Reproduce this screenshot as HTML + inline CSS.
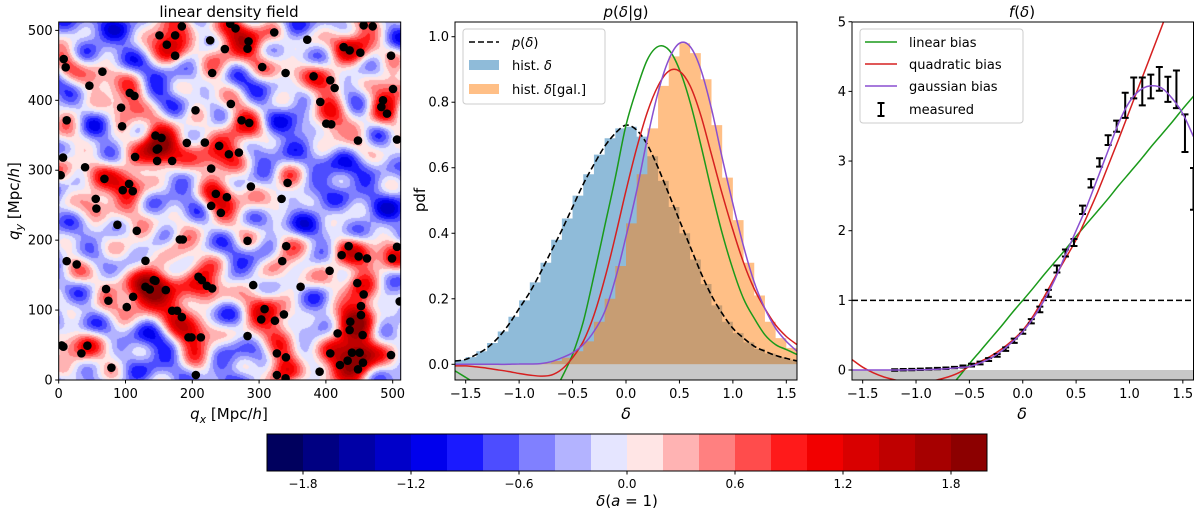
<!DOCTYPE html>
<html><head><meta charset="utf-8">
<style>
html,body{margin:0;padding:0;background:#fff;}
#wrap{position:relative;width:1200px;height:512px;overflow:hidden;font-family:"DejaVu Sans","Liberation Sans",sans-serif;}
svg{position:absolute;left:0;top:0;}
canvas{position:absolute;}
</style></head>
<body>
<div id="wrap">
<canvas id="field" width="342" height="358" style="left:59px;top:22px;width:342px;height:358px"></canvas>
<svg id="svg" width="1200" height="512"></svg>
</div>
<script>
// ---------- data ----------
const galaxyZoomPts = [[545,78],[478,105],[500,133],[525,105],[525,166],[630,120],[674,146],[636,218],[690,70],[706,84],[745,123],[742,145],[786,200],[822,96],[921,118],[856,218],[940,228],[990,240],[1003,263],[1030,140],[1048,150],[1080,157],[1090,75],[1117,78],[1172,166],[1178,266],[1148,300],[1143,320],[1160,340],[960,305],[978,370],[993,372],[1073,421],[1190,418],[191,176],[197,201],[200,360],[268,256],[307,214],[363,322],[366,378],[389,278],[403,287],[586,330],[692,311],[724,360],[747,368],[560,428],[614,427],[657,437],[686,462],[716,457],[466,406],[484,413],[470,448],[474,445],[471,482],[516,482],[405,470],[189,472],[182,525],[255,501],[313,536],[387,551],[368,570],[398,573],[289,625],[287,596],[352,674],[410,692],[539,718],[548,718],[633,505],[647,581],[633,617],[662,638],[680,591],[752,559],[862,548],[844,596],[742,722],[858,738],[846,783],[988,812],[1045,738],[1024,765],[1075,769],[1100,775],[990,1060],[1012,1000],[1019,1095],[958,1115],[1042,1082],[1055,1058],[1048,990],[1050,965],[1078,1058],[1088,1088],[1073,1108],[1082,945],[1082,918],[1090,883],[1071,849],[901,860],[851,943],[793,927],[783,958],[824,962],[830,1060],[857,1072],[830,1125],[856,1135],[742,1008],[759,855],[595,830],[605,840],[620,857],[636,865],[587,1125],[565,1012],[574,1012],[602,1012],[516,932],[531,932],[545,951],[497,870],[461,840],[466,842],[436,860],[449,868],[436,782],[399,890],[380,921],[318,867],[325,902],[200,783],[230,793],[185,1036],[190,1040],[262,1037],[244,1060],[334,1103],[1198,904],[1172,1065],[1087,1005],[1190,740],[1175,775]];
const galX = galaxyZoomPts.map(p=>(p[0]-176)/(1177-176)*500);
const galY = galaxyZoomPts.map(p=>(1140-p[1])/(1140-90)*500);

const pdfGrid = [-1.6,-1.5,-1.4,-1.3,-1.2,-1.1,-1.0,-0.9,-0.8,-0.7,-0.6,-0.5,-0.4,-0.3,-0.2,-0.1,0,0.1,0.2,0.3,0.4,0.5,0.6,0.7,0.8,0.9,1.0,1.1,1.2,1.3,1.4,1.5,1.6];
const pDelta = [0.01,0.015,0.03,0.05,0.08,0.12,0.17,0.22,0.28,0.345,0.41,0.48,0.55,0.61,0.665,0.705,0.73,0.715,0.67,0.6,0.52,0.44,0.36,0.28,0.21,0.155,0.11,0.08,0.055,0.04,0.027,0.018,0.01];
const pGreen = [-0.02,-0.04,-0.06,-0.08,-0.1,-0.12,-0.14,-0.15,-0.14,-0.1,-0.04,0.03,0.13,0.27,0.42,0.57,0.73,0.84,0.93,0.97,0.96,0.9,0.8,0.67,0.53,0.4,0.29,0.2,0.14,0.09,0.06,0.045,0.03];
const pRed = [-0.005,-0.005,-0.008,-0.012,-0.017,-0.022,-0.028,-0.033,-0.036,-0.033,-0.015,0.02,0.07,0.15,0.26,0.39,0.53,0.66,0.77,0.85,0.895,0.895,0.85,0.76,0.64,0.52,0.41,0.31,0.23,0.17,0.12,0.085,0.06];
const pPurple = [0,0,0,0,0,0,0.001,0.001,0.002,0.008,0.02,0.035,0.06,0.1,0.16,0.26,0.39,0.53,0.69,0.83,0.93,0.98,0.97,0.9,0.78,0.63,0.49,0.36,0.25,0.17,0.11,0.07,0.04];
const histCenters = [-1.55,-1.45,-1.35,-1.25,-1.15,-1.05,-0.95,-0.85,-0.75,-0.65,-0.55,-0.45,-0.35,-0.25,-0.15,-0.05,0.05,0.15,0.25,0.35,0.45,0.55,0.65,0.75,0.85,0.95,1.05,1.15,1.25,1.35,1.45,1.55];
const histBlue = [0.013,0.022,0.04,0.065,0.10,0.145,0.195,0.25,0.31,0.38,0.445,0.515,0.58,0.64,0.69,0.72,0.725,0.695,0.635,0.56,0.48,0.40,0.32,0.245,0.18,0.13,0.095,0.067,0.047,0.033,0.022,0.014];
const histOrange = [0,0,0,0,0,0,0,0,0.003,0.01,0.02,0.04,0.07,0.13,0.2,0.3,0.43,0.58,0.72,0.85,0.94,0.98,0.95,0.87,0.73,0.57,0.44,0.31,0.21,0.13,0.08,0.05];

const fGreen = [-1.93,-1.75,-1.56,-1.38,-1.2,-1.01,-0.83,-0.65,-0.46,-0.28,-0.1,0.09,0.27,0.45,0.63,0.82,1.0,1.18,1.37,1.55,1.73,1.92,2.1,2.28,2.46,2.65,2.83,3.01,3.2,3.38,3.56,3.75,3.93];
const fRed = [0.15,0.04,-0.04,-0.1,-0.14,-0.17,-0.18,-0.17,-0.14,-0.1,-0.04,0.05,0.12,0.2,0.3,0.42,0.57,0.78,1.05,1.33,1.6,1.87,2.2,2.55,2.93,3.32,3.72,4.12,4.52,4.92,5.32,5.72,6.1];
const fPurple = [0,0,0,0,0,0.001,0.003,0.006,0.012,0.02,0.035,0.05,0.1,0.17,0.27,0.4,0.55,0.75,1.0,1.3,1.65,2.0,2.35,2.75,3.15,3.55,3.85,4.02,4.08,4.05,3.9,3.68,3.35];
const measX = [-1.2,-1.12,-1.04,-0.96,-0.88,-0.8,-0.72,-0.64,-0.56,-0.48,-0.4,-0.32,-0.24,-0.16,-0.08,0,0.08,0.16,0.24,0.32,0.4,0.48,0.56,0.64,0.72,0.8,0.88,0.96,1.04,1.12,1.2,1.28,1.36,1.44,1.52,1.6];
const measY = [0.0,0.005,0.007,0.01,0.015,0.02,0.025,0.035,0.05,0.07,0.1,0.15,0.21,0.3,0.42,0.55,0.7,0.87,1.1,1.45,1.68,1.83,2.3,2.68,2.98,3.3,3.5,3.8,4.05,4.0,4.07,4.18,4.03,4.03,3.4,2.6];
const measErr = [0.01,0.01,0.01,0.01,0.01,0.01,0.01,0.01,0.015,0.02,0.02,0.02,0.02,0.025,0.03,0.03,0.03,0.04,0.05,0.05,0.05,0.05,0.06,0.06,0.06,0.07,0.08,0.18,0.15,0.2,0.17,0.17,0.18,0.27,0.27,0.3];
const cbTicks = [-1.8,-1.2,-0.6,0.0,0.6,1.2,1.8];
const xTicksD = [-1.5,-1.0,-0.5,0.0,0.5,1.0,1.5];
const pdfTicks = [0.0,0.2,0.4,0.6,0.8,1.0];
const fTicks = [0,1,2,3,4,5];
const qTicks = [0,100,200,300,400,500];

// ---------- helpers ----------
const NS='http://www.w3.org/2000/svg';
const svg=document.getElementById('svg');
function mk(tag,attrs,parent){const e=document.createElementNS(NS,tag);for(const k in attrs)e.setAttribute(k,attrs[k]);(parent||svg).appendChild(e);return e;}
function txt(s,x,y,opts,parent){const e=mk('text',Object.assign({x:x,y:y,'font-size':13,'text-anchor':'middle',fill:'#000'},opts||{}),parent);e.innerHTML=s;return e;}
function seismic(v){
  let r,g,b;
  if(v<0.25){const t=v/0.25;r=0;g=0;b=0.3+0.7*t;}
  else if(v<0.5){const t=(v-0.25)/0.25;r=t;g=t;b=1;}
  else if(v<0.75){const t=(v-0.5)/0.25;r=1;g=1-t;b=1-t;}
  else{const t=(v-0.75)/0.25;r=1-0.5*t;g=0;b=0;}
  return [Math.round(r*255),Math.round(g*255),Math.round(b*255)];
}
function levelColor(i){return seismic((i+0.5)/20);}

// ---------- density field ----------
(function(){
  const cv=document.getElementById('field');const ctx=cv.getContext('2d');
  const W=342,H=358;const img=ctx.createImageData(W,H);
  const s2=2*18*18;
  for(let py=0;py<H;py++){
    const y=(H-py)/H*512;
    for(let px=0;px<W;px++){
      const x=px/W*512;
      let s=0;
      for(let k=0;k<galX.length;k++){const dx=x-galX[k],dy=y-galY[k];const d=dx*dx+dy*dy;if(d<5000)s+=Math.exp(-d/s2);}
      const tex=0.3*Math.sin(x*0.045+1.3)*Math.cos(y*0.05+0.7)+0.25*Math.sin(x*0.09+y*0.07)+0.2*Math.cos(x*0.07-y*0.11+2.1)+0.15*Math.sin(y*0.13+x*0.02);
      let f=0.62*(s-0.9)+tex;
      let lv=Math.floor((f+2)/0.2);lv=Math.max(0,Math.min(19,lv));
      const c=levelColor(lv);const o=(py*W+px)*4;
      img.data[o]=c[0];img.data[o+1]=c[1];img.data[o+2]=c[2];img.data[o+3]=255;
    }
  }
  ctx.putImageData(img,0,0);
})();

// ---------- left panel ----------
const L={x0:58.7,x1:400.7,y0:380,y1:22};
const qx=v=>L.x0+v/512*(L.x1-L.x0);
const qy=v=>L.y0-v/512*(L.y0-L.y1);
const clipL=mk('clipPath',{id:'clipL'});mk('rect',{x:L.x0,y:L.y1,width:L.x1-L.x0,height:L.y0-L.y1},clipL);
const gGal=mk('g',{'clip-path':'url(#clipL)'});


for(let k=0;k<galX.length;k++){
  const c=mk('circle',{cx:qx(galX[k]),cy:qy(galY[k]),r:4.3,fill:'#000'},gGal);
  
  
}
let e;
e=mk('rect',{x:L.x0,y:L.y1,width:L.x1-L.x0,height:L.y0-L.y1,fill:'none',stroke:'#000','stroke-width':1});

qTicks.forEach(t=>{
  mk('line',{x1:qx(t),x2:qx(t),y1:L.y0,y2:L.y0+3.5,stroke:'#000'});
  const a=txt(t,qx(t),L.y0+18);
  mk('line',{x1:L.x0-3.5,x2:L.x0,y1:qy(t),y2:qy(t),stroke:'#000'});
  const b=txt(t,L.x0-6,qy(t)+4.5,{'text-anchor':'end'});
});
e=txt('linear density field',229,17,{'font-size':15});
e=txt('<tspan font-style="italic">q</tspan><tspan font-size="11" font-style="italic" dy="4">x</tspan><tspan dy="-4"> [Mpc/</tspan><tspan font-style="italic">h</tspan>]',229,419,{'font-size':15});
e=txt('<tspan font-style="italic">q</tspan><tspan font-size="11" font-style="italic" dy="4">y</tspan><tspan dy="-4"> [Mpc/</tspan><tspan font-style="italic">h</tspan>]',0,0,{'font-size':15,transform:'translate(19,201) rotate(-90)'});

// ---------- middle panel ----------
const M={x0:455,x1:797,y0:380,y1:22};
const mx=v=>M.x0+(v+1.6)/3.2*(M.x1-M.x0);
const my=v=>364.3-v*327.6;
const clipM=mk('clipPath',{id:'clipM'});mk('rect',{x:M.x0,y:M.y1,width:M.x1-M.x0,height:M.y0-M.y1},clipM);
const gM=mk('g',{'clip-path':'url(#clipM)'});

mk('rect',{x:M.x0,y:my(0),width:M.x1-M.x0,height:M.y0-my(0),fill:'#c8c8c8'},gM);
function histPath(vals){let d='M'+mx(histCenters[0]-0.05)+','+my(0);histCenters.forEach((c,i)=>{d+=' L'+mx(c-0.05)+','+my(vals[i])+' L'+mx(c+0.05)+','+my(vals[i]);});d+=' L'+mx(histCenters[histCenters.length-1]+0.05)+','+my(0)+'Z';return d;}
e=mk('path',{d:histPath(histBlue),fill:'#1f77b4','fill-opacity':0.5},gM);
e=mk('path',{d:histPath(histOrange),fill:'#ff7f0e','fill-opacity':0.5},gM);
function curve(xs,ys,fx,fy){
  const P=xs.map((x,i)=>[fx(x),fy(ys[i])]);
  let d='M'+P[0][0].toFixed(1)+','+P[0][1].toFixed(1);
  for(let i=0;i<P.length-1;i++){
    const p0=P[Math.max(0,i-1)],p1=P[i],p2=P[i+1],p3=P[Math.min(P.length-1,i+2)];
    const c1=[p1[0]+(p2[0]-p0[0])/6,p1[1]+(p2[1]-p0[1])/6],c2=[p2[0]-(p3[0]-p1[0])/6,p2[1]-(p3[1]-p1[1])/6];
    d+=` C${c1[0].toFixed(1)},${c1[1].toFixed(1)} ${c2[0].toFixed(1)},${c2[1].toFixed(1)} ${p2[0].toFixed(1)},${p2[1].toFixed(1)}`;
  }
  return d;
}
e=mk('path',{d:curve(pdfGrid,pDelta,mx,my),fill:'none',stroke:'#000','stroke-width':1.6,'stroke-dasharray':'6,3'},gM);
e=mk('path',{d:curve(pdfGrid,pGreen,mx,my),fill:'none',stroke:'#1a9a1a','stroke-width':1.5},gM);
e=mk('path',{d:curve(pdfGrid,pRed,mx,my),fill:'none',stroke:'#d62020','stroke-width':1.5},gM);
e=mk('path',{d:curve(pdfGrid,pPurple,mx,my),fill:'none',stroke:'#8a4fd0','stroke-width':1.5},gM);
e=mk('rect',{x:M.x0,y:M.y1,width:M.x1-M.x0,height:M.y0-M.y1,fill:'none',stroke:'#000'});
xTicksD.forEach(t=>{mk('line',{x1:mx(t),x2:mx(t),y1:M.y0,y2:M.y0+3.5,stroke:'#000'});
  const a=txt(t.toFixed(1).replace('-','\u2212'),mx(t),M.y0+18);});
pdfTicks.forEach(t=>{mk('line',{x1:M.x0-3.5,x2:M.x0,y1:my(t),y2:my(t),stroke:'#000'});
  const a=txt(t.toFixed(1),M.x0-6,my(t)+4.5,{'text-anchor':'end'});});
e=txt('<tspan font-style="italic">p</tspan>(<tspan font-style="italic">δ</tspan>|g)',626,17,{'font-size':15});
e=txt('<tspan font-style="italic">δ</tspan>',626,419,{'font-size':16});
e=txt('pdf',0,0,{'font-size':15,transform:'translate(425,200) rotate(-90)'});
const lgM=mk('g',{});
mk('rect',{x:463,y:29,width:142,height:75,rx:3,fill:'#fff','fill-opacity':0.8,stroke:'#ccc'},lgM);
mk('line',{x1:469,x2:499,y1:42,y2:42,stroke:'#000','stroke-width':1.6,'stroke-dasharray':'6,3'},lgM);
txt('<tspan font-style="italic">p</tspan>(<tspan font-style="italic">δ</tspan>)',512,47,{'text-anchor':'start','font-size':13},lgM);
mk('rect',{x:469,y:60,width:30,height:10,fill:'#1f77b4','fill-opacity':0.5},lgM);
txt('hist. <tspan font-style="italic">δ</tspan>',512,70,{'text-anchor':'start','font-size':13},lgM);
mk('rect',{x:469,y:84,width:30,height:10,fill:'#ff7f0e','fill-opacity':0.5},lgM);
txt('hist. <tspan font-style="italic">δ</tspan>[gal.]',512,94,{'text-anchor':'start','font-size':13},lgM);

// ---------- right panel ----------
const R={x0:852,x1:1193.5,y0:380,y1:22};
const rx=v=>R.x0+(v+1.6)/3.2*(R.x1-R.x0);
const ry=v=>370-v*69.65;
const clipR=mk('clipPath',{id:'clipR'});mk('rect',{x:R.x0,y:R.y1,width:R.x1-R.x0,height:R.y0-R.y1},clipR);
const gR=mk('g',{'clip-path':'url(#clipR)'});
mk('rect',{x:R.x0,y:ry(0),width:R.x1-R.x0,height:R.y0-ry(0),fill:'#c8c8c8'},gR);
e=mk('line',{x1:R.x0,x2:R.x1,y1:ry(1),y2:ry(1),stroke:'#000','stroke-width':1.5,'stroke-dasharray':'6,3'},gR);
e=mk('path',{d:curve(pdfGrid,fGreen,rx,ry),fill:'none',stroke:'#1a9a1a','stroke-width':1.5},gR);
e=mk('path',{d:curve(pdfGrid,fRed,rx,ry),fill:'none',stroke:'#d62020','stroke-width':1.5},gR);
const gE=mk('g',{},gR);
measX.forEach((x,i)=>{
  const X=rx(x),y1=ry(measY[i]+measErr[i]),y2=ry(measY[i]-measErr[i]);
  const b=mk('path',{d:`M${X},${y1} L${X},${y2} M${X-3.5},${y1} L${X+3.5},${y1} M${X-3.5},${y2} L${X+3.5},${y2}`,stroke:'#000','stroke-width':2,fill:'none'},gE);
  
  
});
e=mk('path',{d:curve(pdfGrid,fPurple,rx,ry),fill:'none',stroke:'#8a4fd0','stroke-width':1.5},gR);
e=mk('rect',{x:R.x0,y:R.y1,width:R.x1-R.x0,height:R.y0-R.y1,fill:'none',stroke:'#000'});
xTicksD.forEach(t=>{mk('line',{x1:rx(t),x2:rx(t),y1:R.y0,y2:R.y0+3.5,stroke:'#000'});
  const a=txt(t.toFixed(1).replace('-','\u2212'),rx(t),R.y0+18);});
fTicks.forEach(t=>{mk('line',{x1:R.x0-3.5,x2:R.x0,y1:ry(t),y2:ry(t),stroke:'#000'});
  const a=txt(t,R.x0-6,ry(t)+4.5,{'text-anchor':'end'});});
e=txt('<tspan font-style="italic">f</tspan>(<tspan font-style="italic">δ</tspan>)',1022,17,{'font-size':15});
e=txt('<tspan font-style="italic">δ</tspan>',1022,419,{'font-size':16});
const lgR=mk('g',{});
mk('rect',{x:860,y:29,width:163,height:94,rx:3,fill:'#fff','fill-opacity':0.8,stroke:'#ccc'},lgR);
mk('line',{x1:865,x2:897,y1:42,y2:42,stroke:'#1a9a1a','stroke-width':1.5},lgR);
txt('linear bias',909,47,{'text-anchor':'start','font-size':13},lgR);
mk('line',{x1:865,x2:897,y1:64,y2:64,stroke:'#d62020','stroke-width':1.5},lgR);
txt('quadratic bias',909,69,{'text-anchor':'start','font-size':13},lgR);
mk('line',{x1:865,x2:897,y1:86,y2:86,stroke:'#8a4fd0','stroke-width':1.5},lgR);
txt('gaussian bias',909,91,{'text-anchor':'start','font-size':13},lgR);
mk('path',{d:'M881,103 L881,116 M877.5,103 L884.5,103 M877.5,116 L884.5,116',stroke:'#000','stroke-width':2},lgR);
txt('measured',909,114,{'text-anchor':'start','font-size':13},lgR);

// ---------- colorbar ----------
const C={x0:267,x1:987,y0:434,y1:471};
const cx=v=>C.x0+(v+2)/4*(C.x1-C.x0);
const gC=mk('g',{});
for(let i=0;i<20;i++){const c=levelColor(i);
  const r=mk('rect',{x:cx(-2+0.2*i),y:C.y0,width:(C.x1-C.x0)/20+0.5,height:C.y1-C.y0,fill:`rgb(${c[0]},${c[1]},${c[2]})`},gC);
  
  
}
mk('rect',{x:C.x0,y:C.y0,width:C.x1-C.x0,height:C.y1-C.y0,fill:'none',stroke:'#000'},gC);
cbTicks.forEach(t=>{mk('line',{x1:cx(t),x2:cx(t),y1:C.y1,y2:C.y1+3.5,stroke:'#000'});
  const a=txt(t.toFixed(1).replace('-','\u2212'),cx(t),C.y1+17,{'font-size':12});});
e=txt('<tspan font-style="italic">δ</tspan>(<tspan font-style="italic">a</tspan> = 1)',627,506,{'font-size':15});
</script>
</body></html>
